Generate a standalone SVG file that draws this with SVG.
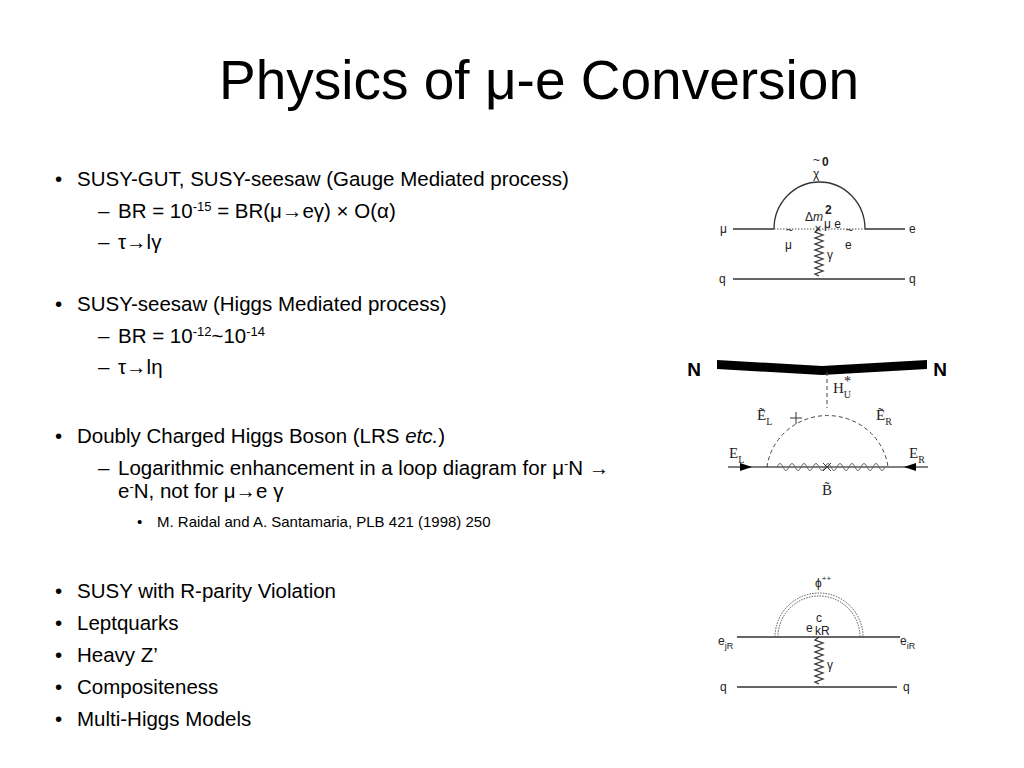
<svg xmlns="http://www.w3.org/2000/svg" width="1024" height="768" viewBox="0 0 1024 768">
<style>
.t{font-family:"Liberation Sans",Arial,sans-serif;fill:#000}
.b{font-size:20.5px}
.s{font-size:15px}
.d{font-size:12px;font-family:"Liberation Sans",Arial,sans-serif;fill:#222}
.ln{stroke:#333;stroke-width:1.3;fill:none}
.ser{font-family:"Liberation Serif",serif;fill:#222}
</style>
<rect width="1024" height="768" fill="#fff"/>
<text class="t" x="539" y="99" font-size="55" text-anchor="middle">Physics of μ-e Conversion</text>
<g id="text" class="t b">
<text x="55" y="186">•</text><text x="77" y="186">SUSY-GUT, SUSY-seesaw (Gauge Mediated process)</text>
<text x="98" y="218">–</text><text x="118" y="218">BR = 10<tspan font-size="13" dy="-7">-15</tspan><tspan dy="7"> = BR(μ→eγ) × O(α)</tspan></text>
<text x="98" y="249">–</text><text x="118" y="249">τ→lγ</text>
<text x="55" y="311">•</text><text x="77" y="311">SUSY-seesaw (Higgs Mediated process)</text>
<text x="98" y="343">–</text><text x="118" y="343">BR = 10<tspan font-size="13" dy="-7">-12</tspan><tspan dy="7">~10</tspan><tspan font-size="13" dy="-7">-14</tspan></text>
<text x="98" y="374">–</text><text x="118" y="374">τ→lη</text>
<text x="55" y="443">•</text><text x="77" y="443">Doubly Charged Higgs Boson (LRS <tspan font-style="italic">etc.</tspan>)</text>
<text x="98" y="475">–</text><text x="118" y="475">Logarithmic enhancement in a loop diagram for μ<tspan font-size="13" dy="-7">-</tspan><tspan dy="7">N →</tspan></text>
<text x="118" y="498">e<tspan font-size="13" dy="-7">-</tspan><tspan dy="7">N, not for μ→e γ</tspan></text>
<text x="55" y="598">•</text><text x="77" y="598">SUSY with R-parity Violation</text>
<text x="55" y="630">•</text><text x="77" y="630">Leptquarks</text>
<text x="55" y="662">•</text><text x="77" y="662">Heavy Z’</text>
<text x="55" y="694">•</text><text x="77" y="694">Compositeness</text>
<text x="55" y="726">•</text><text x="77" y="726">Multi-Higgs Models</text>
</g>
<g class="t s"><text x="137" y="527">•</text><text x="157" y="527">M. Raidal and A. Santamaria, PLB 421 (1998) 250</text></g>

<g id="diagram1">
<path class="ln" d="M733 229H774M865 229H905M733 279H905M774 229A45.5 47 0 0 1 865 229"/>
<path d="M774 229H865" stroke="#555" stroke-width="1" stroke-dasharray="1.5,1.5"/>
<path class="ln" d="M819 229l-4 3l8 3l-8 3l8 3l-8 3l8 3l-8 3l8 3l-8 3l8 3l-8 3l8 3l-8 3l8 3l-8 3l4 2"/>
<text class="d" x="818" y="233" text-anchor="middle">×</text>
<text class="d" x="813" y="164" font-size="10">~</text>
<text class="d" x="813" y="178">χ</text><text x="822" y="166" font-size="9" font-weight="bold" class="d">0</text>
<text class="d" x="805" y="221">Δ<tspan font-style="italic">m</tspan></text>
<text x="825" y="214" font-size="9" font-weight="bold" class="d">2</text>
<text x="824" y="228" font-size="7" class="d">μ e</text>
<text class="d" x="720" y="233">μ</text><text class="d" x="909" y="233">e</text>
<text class="d" x="786" y="234" font-size="9">~</text><text class="d" x="785" y="249">μ</text>
<text class="d" x="846" y="234" font-size="9">~</text><text class="d" x="845" y="249">e</text>
<text class="d" x="827" y="259">γ</text>
<text class="d" x="719" y="283">q</text><text class="d" x="909" y="283">q</text>
</g>

<g id="diagram2">
<path d="M717 360L822 366L927 360L927 369L822 375L717 369Z" fill="#000"/>
<text x="694" y="376" font-family="Liberation Sans,Arial,sans-serif" font-weight="bold" font-size="19" text-anchor="middle">N</text>
<text x="940" y="376" font-family="Liberation Sans,Arial,sans-serif" font-weight="bold" font-size="19" text-anchor="middle">N</text>
<path d="M827 372V408M767 467A61 59 0 0 1 888 467" stroke="#444" stroke-width="1" fill="none" stroke-dasharray="4,3"/>
<path d="M728 467H928" stroke="#000" stroke-width="1.2"/>
<path d="M740 463L752 467L740 471Z M916 463L904 467L916 471Z" fill="#000"/>
<path d="M777 467q3 -7 6 0t6 0t6 0t6 0t6 0t6 0t6 0t6 0t6 0t6 0t6 0t6 0t6 0t6 0t6 0t6 0t6 0t6 0" stroke="#666" stroke-width="1" fill="none"/>
<path d="M823 463l8 8M831 463l-8 8M790 418h12M796 412v12" stroke="#333" stroke-width="1"/>
<g class="ser" font-size="15">
<text x="833" y="393">H<tspan font-size="10" dy="5">U</tspan><tspan font-size="14" dy="-12" dx="-7">*</tspan></text>
<text x="757" y="420">Ẽ<tspan font-size="10" dy="5">L</tspan></text>
<text x="876" y="420">Ẽ<tspan font-size="10" dy="5">R</tspan></text>
<text x="729" y="458">E<tspan font-size="10" dy="5">L</tspan></text>
<text x="909" y="458">E<tspan font-size="10" dy="5">R</tspan></text>
<text x="822" y="495">B̃</text>
</g>
</g>

<g id="diagram3">
<path class="ln" d="M737 637H900M737 687H897"/>
<path d="M775 637A44 44 0 0 1 863 637M778 637A41 41 0 0 1 860 637" stroke="#555" stroke-width="1" fill="none" stroke-dasharray="1.5,1.2"/>
<path class="ln" d="M819 637l-4 3l8 3l-8 3l8 3l-8 3l8 3l-8 3l8 3l-8 3l8 3l-8 3l8 3l-8 3l8 3l-8 3l4 2"/>
<text class="d" x="815" y="587">ϕ<tspan font-size="8" dy="-6">++</tspan></text>
<text class="d" x="806" y="632">e</text><text x="816" y="622" font-size="8" class="d">c</text><text x="815" y="635" font-size="9" class="d">kR</text>
<text class="d" x="718" y="645">e<tspan font-size="9" dy="4">jR</tspan></text>
<text class="d" x="900" y="645">e<tspan font-size="9" dy="4">iR</tspan></text>
<text class="d" x="827" y="669">γ</text>
<text class="d" x="720" y="691">q</text><text class="d" x="903" y="691">q</text>
</g>
</svg>
